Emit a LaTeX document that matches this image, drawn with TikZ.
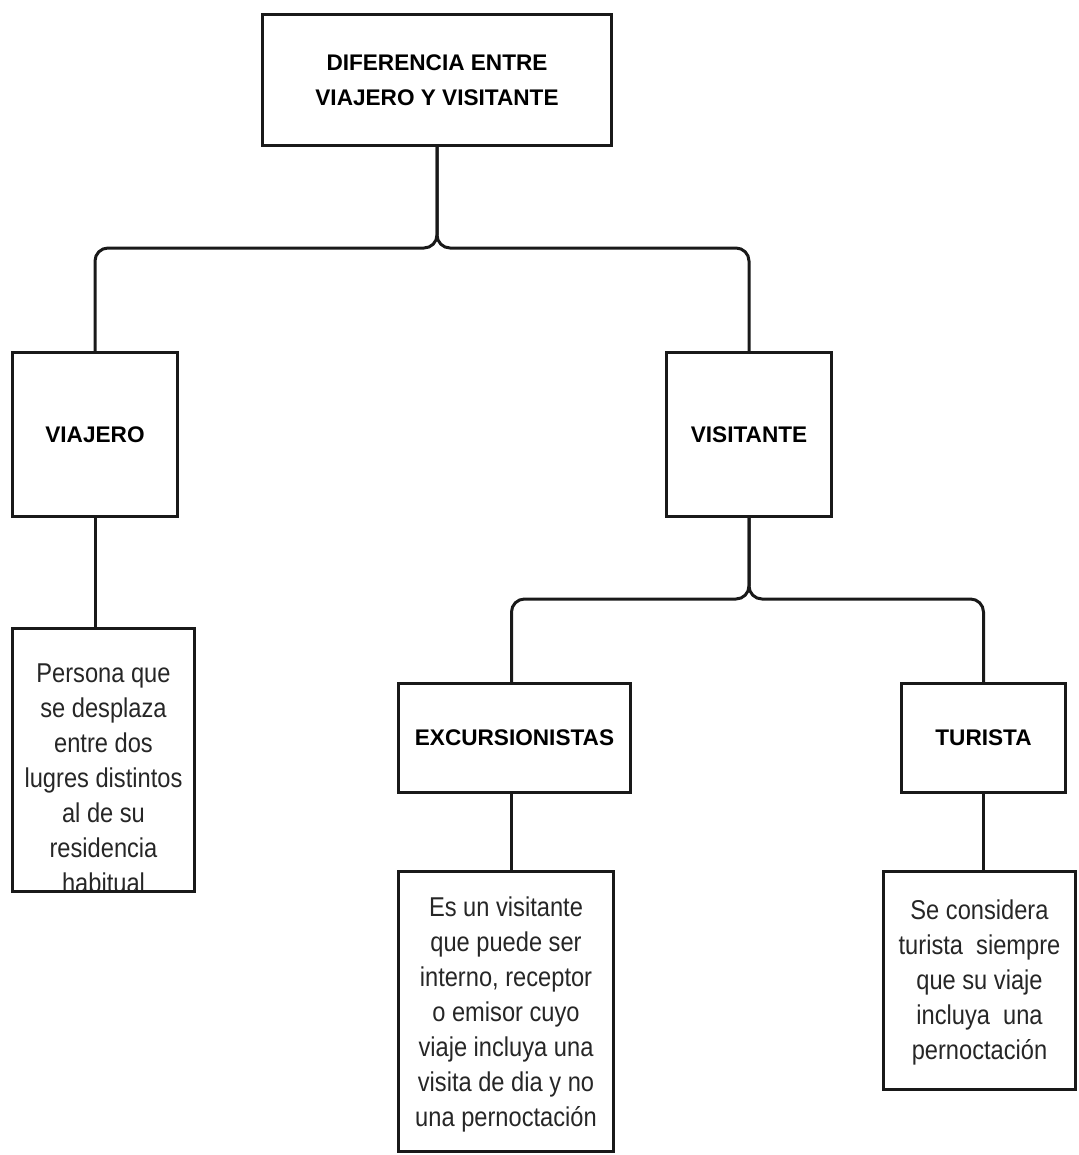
\documentclass[tikz,border=0pt]{standalone}
\usepackage{fontspec}
\setmainfont{Liberation Sans}
\newfontfamily\descfont[FakeStretch=0.87]{Liberation Sans}
\begin{document}
\begin{tikzpicture}[x=0.5pt,y=-0.5pt,
  box/.style={draw=black!90, line width=1.5pt, rectangle, inner sep=0pt},
  title/.style={box, font=\bfseries\fontsize{11.3}{17.5}\selectfont, align=center},
  desc/.style={box, fill=none},
  desctext/.style={font=\descfont\fontsize{13.6}{17.5}\selectfont, align=center, text=black!85, inner sep=0pt},
  conn/.style={draw=black!90, line width=1.5pt, rounded corners=6.5pt}]
\useasboundingbox (0,0) rectangle (1079,1155);

% first level
\node[title, minimum width=174.5pt, minimum height=65.5pt] (top) at (437,80)
  {DIFERENCIA ENTRE\\VIAJERO Y VISITANTE};
\node[title, minimum width=82.5pt, minimum height=82pt] (viajero) at (95,434.5) {VIAJERO};
\node[title, minimum width=82.5pt, minimum height=82pt] (visitante) at (749,434.5) {VISITANTE};

% second level
\node[title, minimum width=116pt, minimum height=54.5pt] (excursion) at (514.5,738) {EXCURSIONISTAS};
\node[title, minimum width=82pt, minimum height=54.5pt] (turista) at (983.5,738) {TURISTA};

% description texts
\node[desctext] (tviajero) at (103.5,778)
  {Persona que\\se desplaza\\entre dos\\lugres distintos\\al de su\\residencia\\habitual};
\node[desctext] (texcursion) at (506,1014)
  {Es un visitante\\que puede ser\\interno, receptor\\o emisor cuyo\\viaje incluya una\\visita de dia y no\\una pernoctación};
\node[desctext] (tturista) at (979.5,982)
  {Se considera\\turista\ \ siempre\\que su viaje\\incluya\ \ una\\pernoctación};

% description boxes
\node[desc, minimum width=91pt, minimum height=131.5pt] (dviajero) at (103.5,760) {};
\node[desc, minimum width=107.5pt, minimum height=140pt] (dexcursion) at (506,1011.5) {};
\node[desc, minimum width=96pt, minimum height=109pt] (dturista) at (979.5,980.5) {};

% branching connectors
\coordinate (j1) at (437,248);
\coordinate (j2) at (749,599);
\draw[conn] (top.south) -- (j1) -| (viajero.north);
\draw[conn] (top.south) -- (j1) -| (visitante.north);
\draw[conn] (visitante.south) -- (j2) -| ([xshift=-1.5pt]excursion.north);
\draw[conn] (visitante.south) -- (j2) -| (turista.north);

% straight connectors to descriptions
\draw[conn] (viajero.south) -- (viajero.south |- dviajero.north);
\draw[conn] ([xshift=-1.5pt]excursion.south) -- ([xshift=-1.5pt]excursion.south |- dexcursion.north);
\draw[conn] (turista.south) -- (turista.south |- dturista.north);
\end{tikzpicture}
\end{document}
